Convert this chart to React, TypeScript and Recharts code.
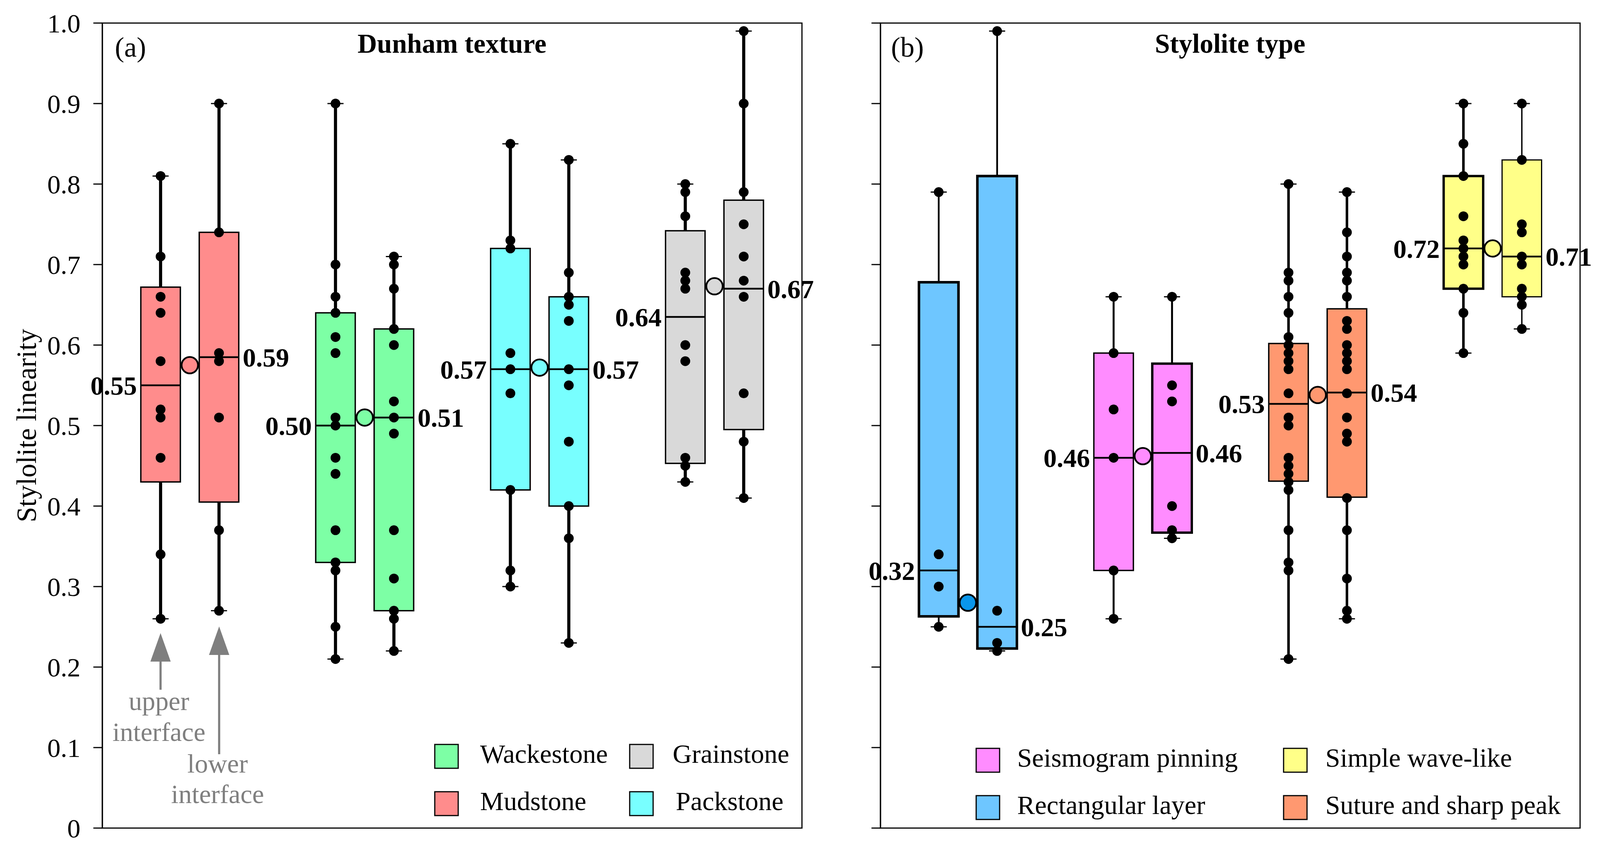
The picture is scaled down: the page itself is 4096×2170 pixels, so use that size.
import React from 'react';
import { ComposedChart, XAxis, YAxis, Scatter, ReferenceArea, ReferenceLine } from 'recharts';

const FONT = "'Liberation Serif', 'Times New Roman', serif";

const yTicks = [0, 0.1, 0.2, 0.3, 0.4, 0.5, 0.6, 0.7, 0.8, 0.9, 1.0];
const yTickLabels = ['0', '0.1', '0.2', '0.3', '0.4', '0.5', '0.6', '0.7', '0.8', '0.9', '1.0'];

// (a) Dunham texture
const dunhamGroups = ['Mudstone', 'Wackestone', 'Packstone', 'Grainstone'];
const mudstoneUpper = [0.81, 0.71, 0.66, 0.64, 0.58, 0.52, 0.51, 0.46, 0.34, 0.26];
const mudstoneLower = [0.9, 0.74, 0.59, 0.58, 0.51, 0.37, 0.27];
const wackestoneUpper = [0.9, 0.7, 0.66, 0.64, 0.61, 0.59, 0.51, 0.5, 0.46, 0.44, 0.37, 0.33, 0.32, 0.25, 0.21];
const wackestoneLower = [0.71, 0.7, 0.67, 0.62, 0.6, 0.53, 0.51, 0.49, 0.37, 0.31, 0.27, 0.26, 0.22];
const packstoneUpper = [0.85, 0.73, 0.72, 0.59, 0.57, 0.54, 0.42, 0.32, 0.3];
const packstoneLower = [0.83, 0.69, 0.66, 0.65, 0.63, 0.57, 0.55, 0.48, 0.4, 0.36, 0.23];
const grainstoneUpper = [0.8, 0.79, 0.76, 0.69, 0.68, 0.67, 0.6, 0.58, 0.46, 0.45, 0.43];
const grainstoneLower = [0.99, 0.9, 0.79, 0.75, 0.71, 0.68, 0.66, 0.54, 0.48, 0.41];

// box stats, upper / lower interface interleaved
const dunhamLow = [0.26, 0.27, 0.21, 0.22, 0.3, 0.23, 0.43, 0.41];
const dunhamQ1 = [0.43, 0.405, 0.33, 0.27, 0.42, 0.4, 0.453, 0.495];
const dunhamMedian = [0.55, 0.585, 0.5, 0.51, 0.57, 0.57, 0.635, 0.67];
const dunhamQ3 = [0.672, 0.74, 0.64, 0.62, 0.72, 0.66, 0.742, 0.78];
const dunhamHigh = [0.81, 0.9, 0.9, 0.71, 0.85, 0.83, 0.8, 0.99];
const dunhamMean = [0.575, 0.51, 0.572, 0.673];
const dunhamMedianLabels = ['0.55', '0.59', '0.50', '0.51', '0.57', '0.57', '0.64', '0.67'];

// (b) Stylolite type
const styloliteGroups = ['Rectangular layer', 'Seismogram pinning', 'Suture and sharp peak', 'Simple wave-like'];
const rectangularUpper = [0.79, 0.34, 0.3, 0.25];
const rectangularLower = [0.99, 0.27, 0.23, 0.22];
const seismogramUpper = [0.66, 0.59, 0.52, 0.46, 0.32, 0.26];
const seismogramLower = [0.66, 0.55, 0.53, 0.4, 0.37, 0.36];
const sutureUpper = [0.8, 0.69, 0.68, 0.66, 0.64, 0.61, 0.6, 0.59, 0.58, 0.57, 0.54, 0.51, 0.5, 0.46, 0.45, 0.44, 0.43, 0.42, 0.37, 0.33, 0.32, 0.21];
const sutureLower = [0.79, 0.74, 0.71, 0.69, 0.68, 0.66, 0.63, 0.62, 0.6, 0.59, 0.58, 0.57, 0.54, 0.51, 0.49, 0.48, 0.41, 0.37, 0.31, 0.27, 0.26];
const simpleUpper = [0.9, 0.85, 0.81, 0.76, 0.73, 0.72, 0.71, 0.7, 0.67, 0.64, 0.59];
const simpleLower = [0.9, 0.83, 0.75, 0.74, 0.71, 0.7, 0.67, 0.66, 0.65, 0.62];

const styloliteLow = [0.25, 0.22, 0.26, 0.36, 0.21, 0.26, 0.59, 0.62];
const styloliteQ1 = [0.263, 0.223, 0.32, 0.367, 0.431, 0.411, 0.67, 0.66];
const styloliteMedian = [0.32, 0.25, 0.46, 0.466, 0.527, 0.541, 0.72, 0.71];
const styloliteQ3 = [0.678, 0.81, 0.59, 0.577, 0.602, 0.645, 0.81, 0.83];
const styloliteHigh = [0.79, 0.99, 0.66, 0.66, 0.8, 0.79, 0.9, 0.9];
const styloliteMean = [0.28, 0.462, 0.538, 0.72];
const styloliteMedianLabels = ['0.32', '0.25', '0.46', '0.46', '0.53', '0.54', '0.72', '0.71'];

// styles
const dunhamColors = ['#ff8c8c', '#7dffa5', '#78ffff', '#d9d9d9'];
const dunhamMeanColors = ['#ff8c8c', '#7dffa5', '#78ffff', '#d9d9d9'];
const styloliteColors = ['#6ec6ff', '#ff8cff', '#ff9870', '#ffff88'];
const styloliteMeanColors = ['#0a96ea', '#ff8cff', '#ff9870', '#ffff88'];

const PAIR_OFFSET = 0.167;
const BOX_HALF = 0.113;
const CAP_HALF = 0.046;
const CHART_H = 2170;

type PanelProps = {
  left: number;
  width: number;
  marginLeft: number;
  marginRight: number;
  axisWidth: number;
  showTickLabels: boolean;
  points: number[][];
  low: number[];
  q1: number[];
  median: number[];
  q3: number[];
  high: number[];
  mean: number[];
  labels: string[];
  colors: string[];
  meanColors: string[];
  boxStroke: number[];
  whiskerStroke: number[];
};

const boxPos = (i: number) => Math.floor(i / 2) + 0.5 + (i % 2 === 0 ? -PAIR_OFFSET : PAIR_OFFSET);

const DotShape = (p: any) => <circle cx={p.cx} cy={p.cy} r={12.5} fill="#000" />;

const MeanShape = (p: any) => (
  <circle cx={p.cx} cy={p.cy} r={21} fill={p.payload.fill} stroke="#000" strokeWidth={4.5} />
);

const LabelShape = (p: any) => {
  const left = p.payload.side === 0;
  return (
    <text
      x={left ? p.cx - 10 : p.cx + 10}
      y={p.cy}
      dy="0.35em"
      textAnchor={left ? 'end' : 'start'}
      fontFamily={FONT}
      fontWeight="bold"
      fontSize={68}
      fill="#000"
    >
      {p.payload.label}
    </text>
  );
};

const Panel: React.FC<PanelProps> = (props) => {
  const { points, low, q1, median, q3, high, mean, labels, colors, meanColors, boxStroke, whiskerStroke } = props;

  const pointData = points.flatMap((vals, i) => vals.map((v) => ({ x: boxPos(i), y: v })));
  const meanData = mean.map((m, g) => ({ x: g + 0.5, y: m, fill: meanColors[g] }));
  const labelData = labels.map((l, i) => ({
    x: boxPos(i) + (i % 2 === 0 ? -BOX_HALF : BOX_HALF),
    y: median[i],
    label: l,
    side: i % 2,
  }));

  return (
    <div style={{ position: 'absolute', left: props.left, top: 0 }}>
      <ComposedChart
        width={props.width}
        height={CHART_H}
        margin={{ top: 59, right: props.marginRight, bottom: 51, left: props.marginLeft }}
      >
        <XAxis type="number" dataKey="x" domain={[0, 4]} hide />
        <YAxis
          type="number"
          dataKey="y"
          domain={[0, 1]}
          ticks={yTicks}
          interval={0}
          width={props.axisWidth}
          tickSize={23}
          tickMargin={33}
          tickFormatter={(v: number) => (props.showTickLabels ? yTickLabels[Math.round(v * 10)] : '')}
          axisLine={{ stroke: '#000', strokeWidth: 3 }}
          tickLine={{ stroke: '#000', strokeWidth: 3 }}
          tick={{ fill: '#000', fontSize: 68, fontFamily: FONT }}
        />
        <ReferenceArea x1={0} x2={4} y1={0} y2={1} fill="none" stroke="#000" strokeWidth={3} ifOverflow="visible" />
        {q1.map((_, i) => (
          <ReferenceArea
            key={'box' + i}
            x1={boxPos(i) - BOX_HALF}
            x2={boxPos(i) + BOX_HALF}
            y1={q1[i]}
            y2={q3[i]}
            fill={colors[Math.floor(i / 2)]}
            fillOpacity={1}
            stroke="#000"
            strokeWidth={boxStroke[i]}
            ifOverflow="visible"
          />
        ))}
        {q1.map((_, i) => (
          <ReferenceLine
            key={'wl' + i}
            segment={[{ x: boxPos(i), y: low[i] }, { x: boxPos(i), y: q1[i] }]}
            stroke="#000"
            strokeWidth={whiskerStroke[i]}
            ifOverflow="visible"
          />
        ))}
        {q1.map((_, i) => (
          <ReferenceLine
            key={'wh' + i}
            segment={[{ x: boxPos(i), y: q3[i] }, { x: boxPos(i), y: high[i] }]}
            stroke="#000"
            strokeWidth={whiskerStroke[i]}
            ifOverflow="visible"
          />
        ))}
        {q1.map((_, i) => (
          <ReferenceLine
            key={'cl' + i}
            segment={[{ x: boxPos(i) - CAP_HALF, y: low[i] }, { x: boxPos(i) + CAP_HALF, y: low[i] }]}
            stroke="#000"
            strokeWidth={3}
            ifOverflow="visible"
          />
        ))}
        {q1.map((_, i) => (
          <ReferenceLine
            key={'ch' + i}
            segment={[{ x: boxPos(i) - CAP_HALF, y: high[i] }, { x: boxPos(i) + CAP_HALF, y: high[i] }]}
            stroke="#000"
            strokeWidth={3}
            ifOverflow="visible"
          />
        ))}
        {q1.map((_, i) => (
          <ReferenceLine
            key={'md' + i}
            segment={[{ x: boxPos(i) - BOX_HALF, y: median[i] }, { x: boxPos(i) + BOX_HALF, y: median[i] }]}
            stroke="#000"
            strokeWidth={4.5}
            ifOverflow="visible"
          />
        ))}
        <Scatter data={pointData} shape={DotShape} isAnimationActive={false} />
        <Scatter data={meanData} shape={MeanShape} isAnimationActive={false} />
        <Scatter data={labelData} shape={LabelShape} isAnimationActive={false} />
      </ComposedChart>
    </div>
  );
};

const LegendItem = ({ x, tx, y, color, label }: { x: number; tx: number; y: number; color: string; label: string }) => (
  <g>
    <rect x={x} y={y - 47} width={60} height={61} fill={color} stroke="#000" strokeWidth={3} />
    <text x={tx} y={y} fontFamily={FONT} fontSize={68} fill="#000">
      {label}
    </text>
  </g>
);

const Overlay = () => (
  <svg width={4096} height={2170} style={{ position: 'absolute', left: 0, top: 0, pointerEvents: 'none' }}>
    <text x={1157} y={135} textAnchor="middle" fontFamily={FONT} fontWeight="bold" fontSize={69}>
      Dunham texture
    </text>
    <text x={3149} y={135} textAnchor="middle" fontFamily={FONT} fontWeight="bold" fontSize={69}>
      Stylolite type
    </text>
    <text x={294} y={145} fontFamily={FONT} fontSize={72}>(a)</text>
    <text x={2281} y={145} fontFamily={FONT} fontSize={72}>(b)</text>
    <text
      transform="translate(67,1089) rotate(-90)"
      textAnchor="middle"
      dy="0.35em"
      fontFamily={FONT}
      fontSize={71}
    >
      Stylolite linearity
    </text>

    {/* legend (a) */}
    <LegendItem x={1113} tx={1229} y={1952} color={dunhamColors[1]} label={dunhamGroups[1]} />
    <LegendItem x={1612} tx={1722} y={1952} color={dunhamColors[3]} label={dunhamGroups[3]} />
    <LegendItem x={1113} tx={1229} y={2073} color={dunhamColors[0]} label={dunhamGroups[0]} />
    <LegendItem x={1612} tx={1730} y={2073} color={dunhamColors[2]} label={dunhamGroups[2]} />

    {/* legend (b) */}
    <LegendItem x={2499} tx={2604} y={1962} color={styloliteColors[1]} label={styloliteGroups[1]} />
    <LegendItem x={3286} tx={3393} y={1962} color={styloliteColors[3]} label={styloliteGroups[3]} />
    <LegendItem x={2499} tx={2604} y={2083} color={styloliteColors[0]} label={styloliteGroups[0]} />
    <LegendItem x={3286} tx={3393} y={2083} color={styloliteColors[2]} label={styloliteGroups[2]} />

    {/* interface annotations */}
    <g fill="#7f7f7f" stroke="none">
      <polygon points="411,1620 385,1693 437,1693" />
      <polygon points="561,1603 535,1676 587,1676" />
    </g>
    <line x1={411} y1={1690} x2={411} y2={1765} stroke="#7f7f7f" strokeWidth={5.5} />
    <line x1={561} y1={1673} x2={561} y2={1930} stroke="#7f7f7f" strokeWidth={5.5} />
    <g fontFamily={FONT} fontSize={68} fill="#7f7f7f" textAnchor="middle">
      <text x={407} y={1817}>upper</text>
      <text x={407} y={1896}>interface</text>
      <text x={557} y={1977}>lower</text>
      <text x={557} y={2055}>interface</text>
    </g>
  </svg>
);

export default function App() {
  return (
    <div style={{ position: 'absolute', left: 0, top: 0, width: 4096, height: 2170, background: '#fff' }}>
      <Panel
        left={0}
        width={2100}
        marginLeft={62}
        marginRight={47}
        axisWidth={200}
        showTickLabels
        points={[mudstoneUpper, mudstoneLower, wackestoneUpper, wackestoneLower, packstoneUpper, packstoneLower, grainstoneUpper, grainstoneLower]}
        low={dunhamLow}
        q1={dunhamQ1}
        median={dunhamMedian}
        q3={dunhamQ3}
        high={dunhamHigh}
        mean={dunhamMean}
        labels={dunhamMedianLabels}
        colors={dunhamColors}
        meanColors={dunhamMeanColors}
        boxStroke={[3.5, 3.5, 3.5, 3.5, 3.5, 3.5, 3.5, 3.5]}
        whiskerStroke={[8, 8, 8, 8, 8, 8, 8, 8]}
      />
      <Panel
        left={2110}
        width={1986}
        marginLeft={44}
        marginRight={51}
        axisWidth={100}
        showTickLabels={false}
        points={[rectangularUpper, rectangularLower, seismogramUpper, seismogramLower, sutureUpper, sutureLower, simpleUpper, simpleLower]}
        low={styloliteLow}
        q1={styloliteQ1}
        median={styloliteMedian}
        q3={styloliteQ3}
        high={styloliteHigh}
        mean={styloliteMean}
        labels={styloliteMedianLabels}
        colors={styloliteColors}
        meanColors={styloliteMeanColors}
        boxStroke={[6.5, 6.5, 3.5, 6, 3.5, 3.5, 6, 3]}
        whiskerStroke={[4.5, 4.5, 5, 5, 6.5, 6.5, 6.5, 3.5]}
      />
      <Overlay />
    </div>
  );
}
